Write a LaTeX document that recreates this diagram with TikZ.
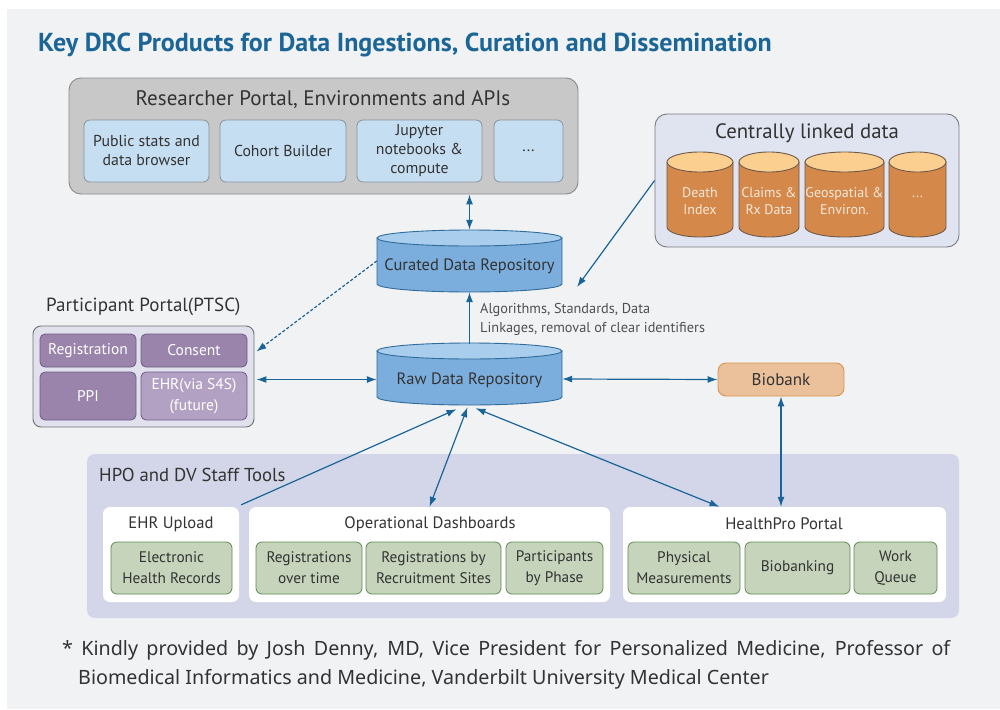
\documentclass[tikz,border=0pt]{standalone}
\usepackage{fontspec}
\setmainfont{PT Sans}
\newfontfamily\notefont{Noto Sans}
\usetikzlibrary{arrows.meta,fit}

\definecolor{bgc}{HTML}{F1F2F4}
\definecolor{titlec}{HTML}{1B6597}
\definecolor{txt}{HTML}{333333}
\definecolor{lbl}{HTML}{505050}
\definecolor{arrc}{HTML}{1A6497}
\definecolor{rpfill}{HTML}{C8C8C8}
\definecolor{rpedge}{HTML}{8A8A8A}
\definecolor{lbfill}{HTML}{C6DEF2}
\definecolor{lbedge}{HTML}{86929C}
\definecolor{lkfill}{HTML}{E0E3F0}
\definecolor{lkedge}{HTML}{7A7A82}
\definecolor{orbody}{HTML}{D4884A}
\definecolor{ortop}{HTML}{FBCF90}
\definecolor{oredge}{HTML}{6E5A4A}
\definecolor{ortxt}{HTML}{F7E8DA}
\definecolor{blbody}{HTML}{7BAEDC}
\definecolor{bltop}{HTML}{A9CDEC}
\definecolor{bledge}{HTML}{2F6C9C}
\definecolor{ppfill}{HTML}{E1E1EE}
\definecolor{ppedge}{HTML}{707070}
\definecolor{purp}{HTML}{9A84AB}
\definecolor{purplt}{HTML}{B3A1C3}
\definecolor{purpedge}{HTML}{6F5B82}
\definecolor{biofill}{HTML}{EBC19B}
\definecolor{bioedge}{HTML}{D8924F}
\definecolor{stfill}{HTML}{D3D6E8}
\definecolor{grfill}{HTML}{C6D4BC}
\definecolor{gredge}{HTML}{5E8C52}

\newcommand\fs[2]{\fontsize{#1}{#2}\selectfont}

% database drum: name, x1, x2, ytop, ybottom, ry, body, top, edge
\newcommand\drum[9]{%
  \pgfmathsetmacro\drx{(#3-#2)/2}%
  \pgfmathsetmacro\drcx{(#3+#2)/2}%
  \path[fill=#7,draw=#9,line width=0.9pt] (#2,#4+#6) -- (#2,#5-#6)
    arc[start angle=180,end angle=0,x radius=\drx,y radius=#6] -- (#3,#4+#6) -- cycle;
  \path[fill=#8,draw=#9,line width=0.9pt] (\drcx,#4+#6) ellipse[x radius=\drx,y radius=#6];
  \node[fit={(#2,#4) (#3,#5)},inner sep=0pt] (#1) {};
}

\begin{document}
\begin{tikzpicture}[x=1pt,y=-1pt,
  every node/.style={text=txt},
  % rectangle given by its corners x1/y1/x2/y2
  span/.style args={#1/#2/#3/#4}{inner sep=0pt,
    minimum width={(#3-#1)*1pt},minimum height={(#4-#2)*1pt},
    at={({(#1+#3)/2},{(#2+#4)/2})}},
  area/.style={inner sep=0pt,rounded corners=#1},
  area/.default=12pt,
  lbox/.style={draw=lbedge,fill=lbfill,line width=0.8pt,rounded corners=6pt,align=center,font=\fs{15.8}{19}},
  pcell/.style={draw=purpedge,fill=purp,line width=0.8pt,rounded corners=5pt,align=center,font=\fs{15.5}{21},text=white},
  gbox/.style={draw=gredge,fill=grfill,line width=0.8pt,rounded corners=6pt,align=center,font=\fs{15.3}{21},text=txt},
  wbox/.style={fill=white,rounded corners=7pt},
  head/.style={font=\fs{16.6}{19}},
  cyltxt/.style={font=\fs{14}{17},text=ortxt,align=center},
  link/.style={draw=arrc,line width=1.2pt,-{Latex[length=10pt,width=7pt]}},
  dlink/.style={draw=arrc,line width=1.2pt,{Latex[length=10pt,width=7pt]}-{Latex[length=10pt,width=7pt]}},
  ]
\useasboundingbox (0,0) rectangle (1000,709);
\fill[bgc] (7,9) rectangle (1000,709);

% heading
\node[anchor=base west,inner sep=0pt,text=titlec,font=\fs{26}{30}\bfseries] (title) at (38,52)
  {Key DRC Products for Data Ingestions, Curation and Dissemination};

% researcher portal
\node[area,fill=rpfill,draw=rpedge,line width=0.9pt,span=69/78/578/194] (rp) {};
\node[font=\fs{21}{24}] (rptitle) at (323,100) {Researcher Portal, Environments and APIs};
\node[lbox,span=84/120/209/182] (pub) {Public stats and\\data browser};
\node[lbox,span=220/120/346/182] (coh) {Cohort Builder};
\node[lbox,span=357/120/482/182] (jup) {Jupyter\\notebooks \&\\compute};
\node[lbox,span=494/120/563/182] (more) {...};

% centrally linked data
\node[area,fill=lkfill,draw=lkedge,line width=0.9pt,span=655/114/959/247] (lk) {};
\node[font=\fs{20.8}{24}] (lktitle) at (807,133) {Centrally linked data};
\drum{death}{667}{733}{152}{237}{10}{orbody}{ortop}{oredge}
\drum{claims}{739}{799}{152}{237}{10}{orbody}{ortop}{oredge}
\drum{geo}{805}{884}{152}{237}{10}{orbody}{ortop}{oredge}
\drum{etc}{889}{946}{152}{237}{10}{orbody}{ortop}{oredge}
\node[cyltxt] at ([yshift=-7pt]death.center) {Death\\Index};
\node[cyltxt] at ([yshift=-7pt]claims.center) {Claims \&\\Rx Data};
\node[cyltxt] at ([yshift=-7pt]geo.center) {Geospatial \&\\Environ.};
\node[cyltxt] at ([yshift=-2pt]etc.center) {...};

% repositories
\drum{cur}{377}{562}{230}{292}{8}{blbody}{bltop}{bledge}
\drum{raw}{377}{562}{343}{405}{8}{blbody}{bltop}{bledge}
\node[font=\fs{16.5}{20}] at ([yshift=-5pt]cur.center) {Curated Data Repository};
\node[font=\fs{16.5}{20}] at ([yshift=-6pt]raw.center) {Raw Data Repository};
\node[anchor=west,align=left,inner sep=0pt,text=lbl,font=\fs{14.3}{19}] (alg) at (480,319)
  {Algorithms, Standards, Data\\Linkages, removal of clear identifiers};

% participant portal
\node[anchor=west,inner sep=0pt,font=\fs{19}{22}] (pptitle) at (46,307) {Participant Portal(PTSC)};
\node[area=8pt,fill=ppfill,draw=ppedge,line width=0.9pt,span=33/326/254/427] (pp) {};
\node[pcell,span=40/334/136/367] (reg) {Registration};
\node[pcell,span=141/334/247/367] (cons) {Consent};
\node[pcell,span=40/372/136/420] (ppi) {PPI};
\node[pcell,fill=purplt,span=141/372/247/420] (ehrv) {EHR(via S4S)\\(future)};

% biobank
\node[draw=bioedge,fill=biofill,line width=0.9pt,rounded corners=8pt,font=\fs{17}{20},
  span=718/363/844/396] (bio) {Biobank};

% staff tools
\node[area=8pt,fill=stfill,span=87/454/959/618] (st) {};
\node[anchor=west,inner sep=0pt,font=\fs{18.7}{22}] (sttitle) at (99,475) {HPO and DV Staff Tools};
\node[wbox,span=103/507/239/602] (ehr) {};
\node[wbox,span=249/507/610/602] (od) {};
\node[wbox,span=623/507/946/602] (hp) {};
\node[head] at (171,524) {EHR Upload};
\node[head] at (430,524) {Operational Dashboards};
\node[head] at (784,524) {HealthPro Portal};
\node[gbox,span=111/542/232/594] (ehrrec) {Electronic\\Health Records};
\node[gbox,span=256/542/362/594] (regtime) {Registrations\\over time};
\node[gbox,span=366/542/501/594] (regsite) {Registrations by\\Recruitment Sites};
\node[gbox,span=506/542/603/594] (phase) {Participants\\by Phase};
\node[gbox,span=628/542/740/594] (phys) {Physical\\Measurements};
\node[gbox,span=745/542/850/594] (bbk) {Biobanking};
\node[gbox,span=854/542/937/594] (wq) {Work\\Queue};

% connectors
\coordinate (lkend) at (577,287);
\draw[dlink] (cur.north |- rp.south) -- (cur.north);
\draw[link] ([yshift=-1pt]raw.north) -- (cur.south);
\draw[link] (lk.west) -- (lkend);
\draw[draw=arrc,line width=1.2pt,dash pattern=on 3pt off 2pt,-{Latex[length=10pt,width=7pt]}]
  (cur.west) -- ([xshift=2pt,yshift=-26pt]pp.north east);
\draw[dlink] ([xshift=2pt,yshift=-3pt]pp.east) -- ([yshift=-3pt]pp.east -| raw.west);
\draw[dlink] ([yshift=-5pt]raw.east) -- (bio.west);
\draw[dlink] (bio.south) -- (bio.south |- hp.north);
\draw[dlink] ([xshift=6pt,yshift=-3pt]raw.south) -- ([xshift=-65pt]hp.north);
\draw[dlink] (od.north) -- ([xshift=-2pt,yshift=-2pt]raw.south);
\draw[link] ([xshift=2pt,yshift=2pt]ehr.north east) -- ([xshift=-13pt,yshift=-4pt]raw.south);

% footnote
\node[anchor=base west,inner sep=0pt,text=txt,font=\notefont\fs{19.7}{29}] (note1) at (62,655)
  {\makebox[888pt][s]{* Kindly provided by Josh Denny, MD, Vice President for Personalized Medicine, Professor of}};
\node[anchor=base west,inner sep=0pt,text=txt,font=\notefont\fs{19.7}{29}] (note2) at (78,684)
  {Biomedical Informatics and Medicine, Vanderbilt University Medical Center};
\end{tikzpicture}
\end{document}
